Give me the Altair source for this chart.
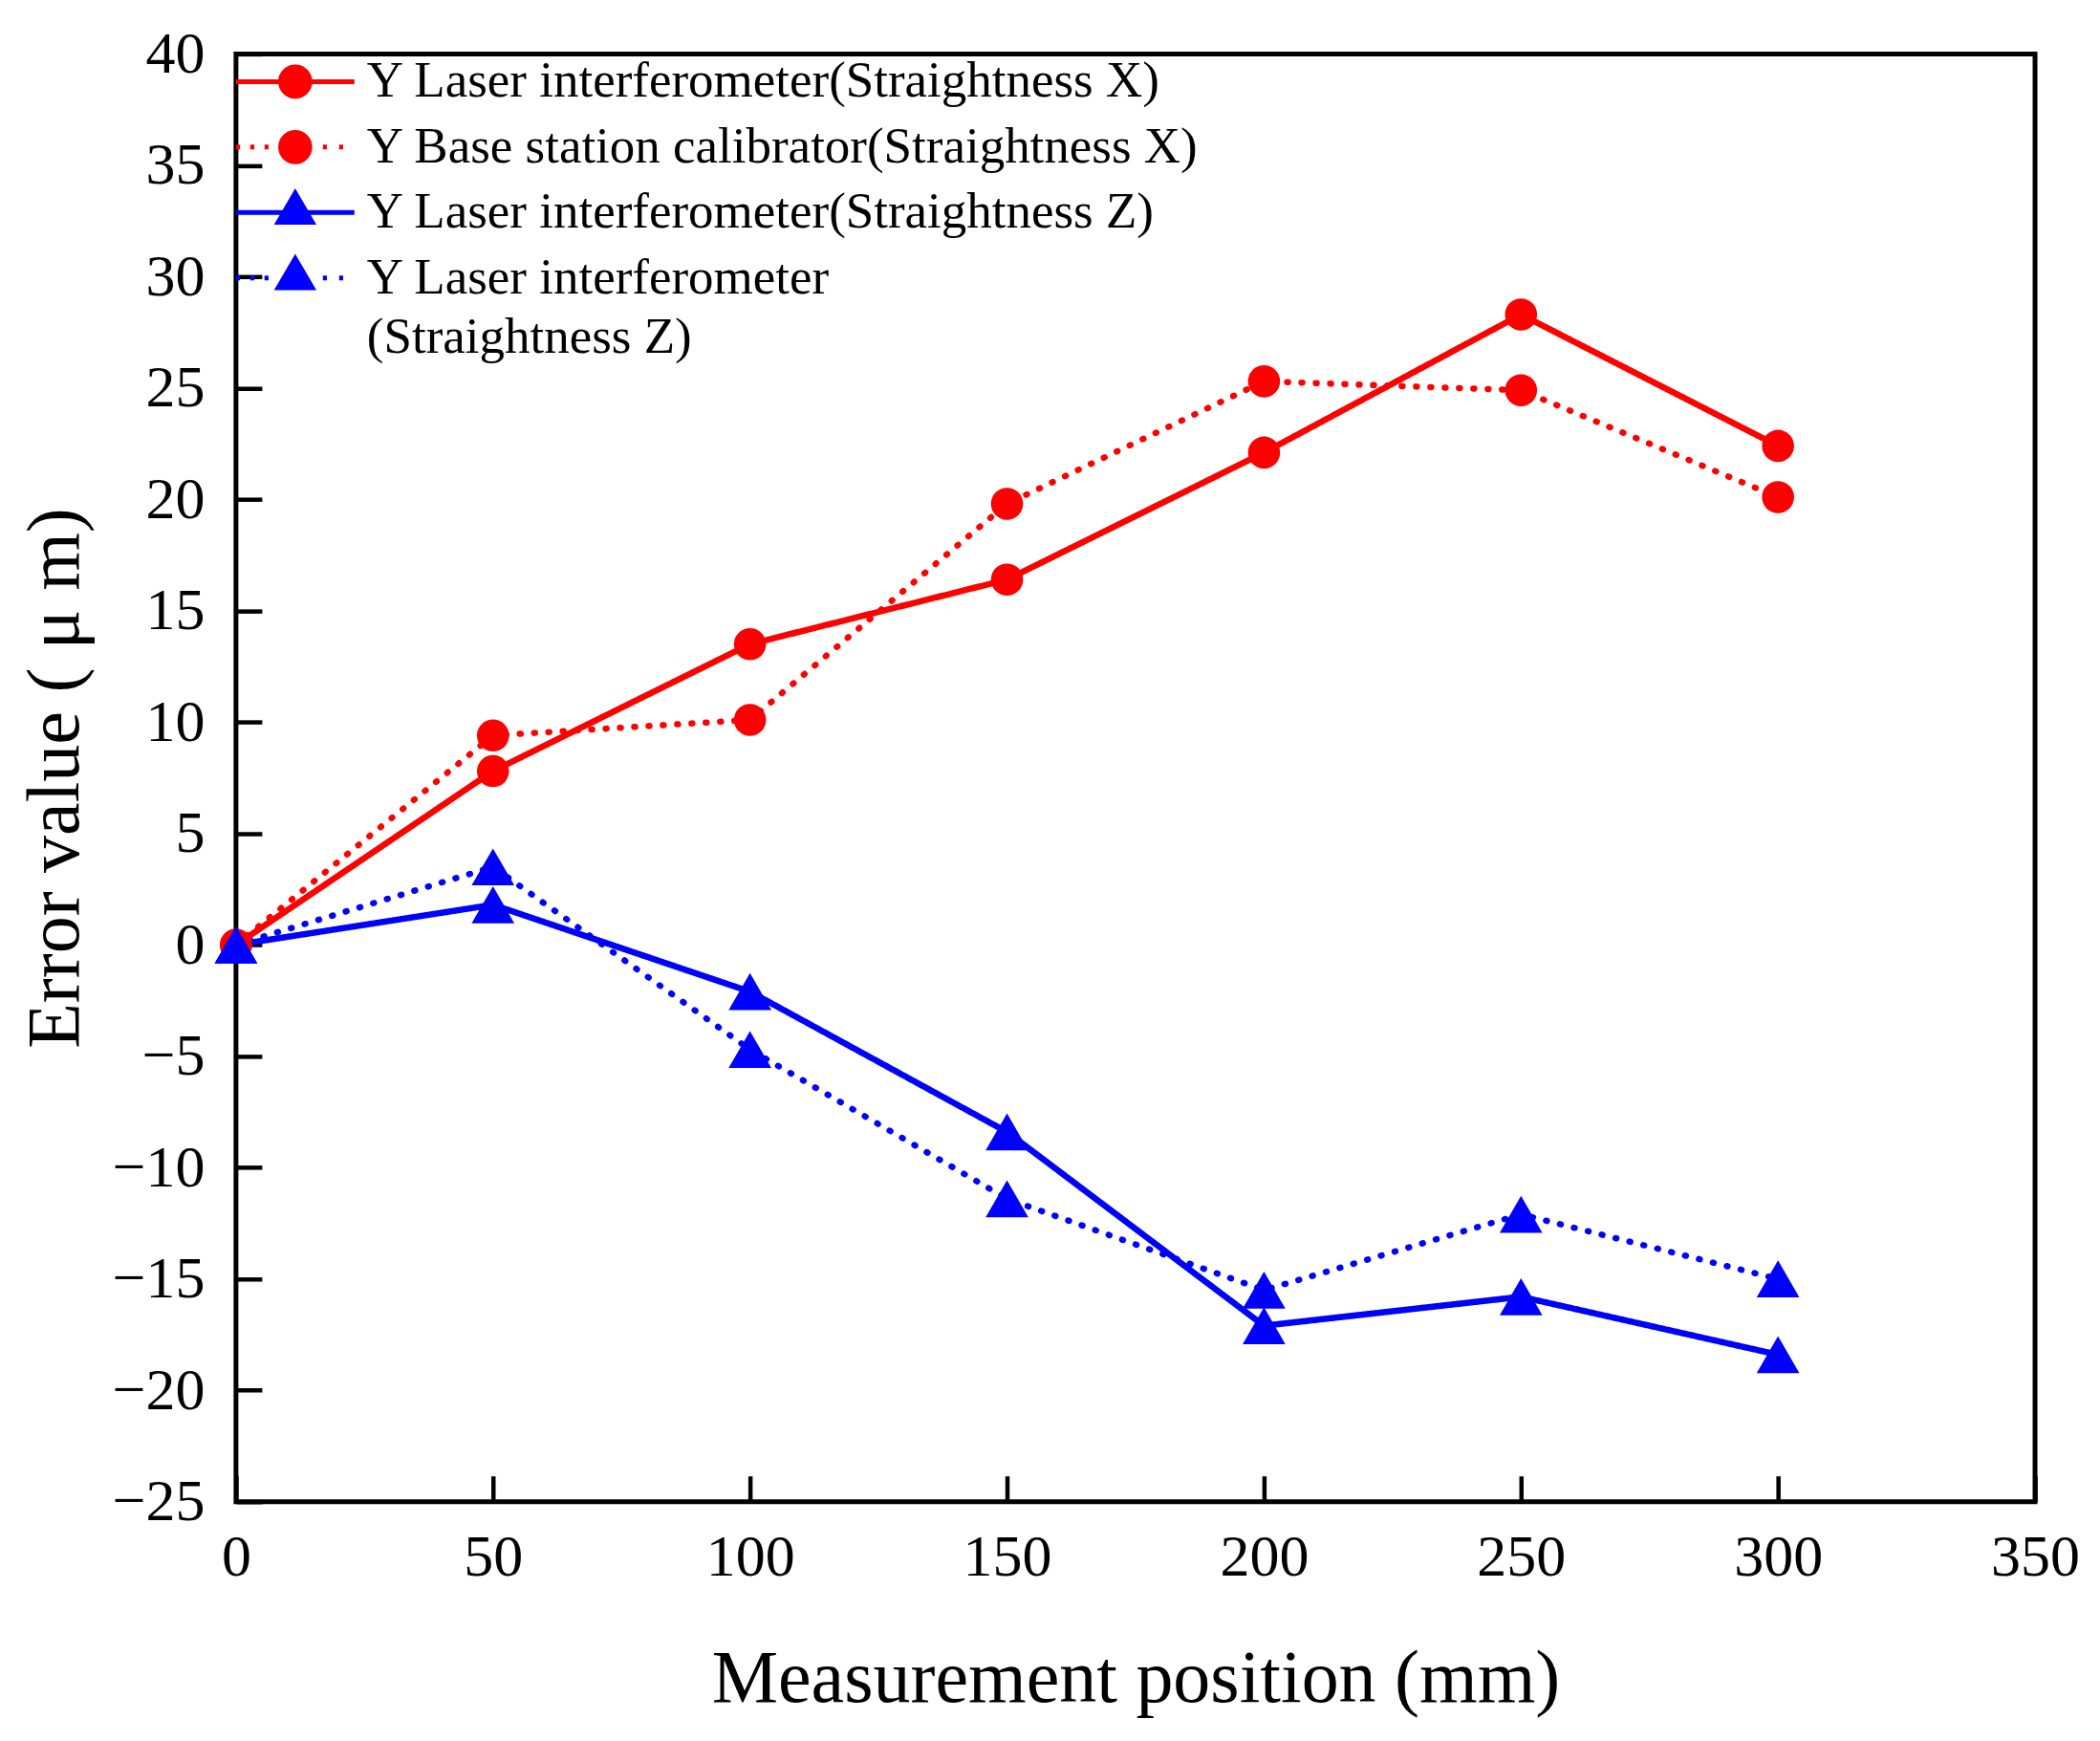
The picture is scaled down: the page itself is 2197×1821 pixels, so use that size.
import altair as alt
import pandas as pd

FONT = "Liberation Serif"

# ---- data ----
positions = [0, 50, 100, 150, 200, 250, 300]
laser_x = [0, 7.8, 13.5, 16.4, 22.1, 28.3, 22.4]
base_x = [0, 9.4, 10.1, 19.8, 25.3, 24.9, 20.1]
laser_z = [0, 1.8, -2.1, -8.4, -17.1, -15.8, -18.4]
laser_z_dotted = [0, 3.5, -4.7, -11.4, -15.5, -12.1, -15.0]

series_names = [
    "Y Laser interferometer(Straightness X)",
    "Y Base station calibrator(Straightness X)",
    "Y Laser interferometer(Straightness Z)",
    "Y Laser interferometer|(Straightness Z)",
]
series_values = [laser_x, base_x, laser_z, laser_z_dotted]
series_colors = ["#ff0000", "#ff0000", "#0000ff", "#0000ff"]
series_dash = [[1, 0], [1, 14], [1, 0], [1, 14]]
circle_series = series_names[:2]
triangle_series = series_names[2:]

x_ticks = [0, 50, 100, 150, 200, 250, 300, 350]
y_ticks = [-25, -20, -15, -10, -5, 0, 5, 10, 15, 20, 25, 30, 35, 40]

# legend key glyphs: line + marker (units of half the legend symbol size);
# the leading move-tos give every key the same vertical extent
extent = "M0,-1.25M0,1.25"
circ = "M-0.73,0A0.73,0.73,0,1,1,0.73,0A0.73,0.73,0,1,1,-0.73,0Z"
tri = "M0,-0.97L0.85,0.49L-0.85,0.49Z"
solid = "M-2.95,0L2.95,0"
dots = ("M-2.95,0L-2.75,0M-2.24,0L-2.04,0M-1.53,0L-1.33,0"
        "M1.38,0L1.58,0M2.19,0L2.39,0")
legend_shapes = [extent + solid + circ, extent + dots + circ,
                 extent + solid + tri, extent + dots + tri]

rows = []
for name, vals, col, dash in zip(series_names, series_values, series_colors, series_dash):
    for xv, yv in zip(positions, vals):
        rows.append({"series": name, "x": xv, "y": yv, "color": col, "dash": dash})
df = pd.DataFrame(rows)

W, H = 1883, 1515

xscale = alt.Scale(domain=[0, 350], nice=False, zero=False)
yscale = alt.Scale(domain=[-25, 40], nice=False, zero=False)
legend_color_scale = alt.Scale(domain=series_names, range=series_colors)
legend_shape_scale = alt.Scale(domain=series_names, range=legend_shapes)

x_label_axis = alt.Axis(
    orient="bottom", values=x_ticks, ticks=False, tickSize=0, domain=False,
    grid=False, labelFont=FONT, labelFontSize=62, labelColor="black",
    labelPadding=28, labelFlush=False, labelOverlap=False,
    title="Measurement position (mm)", titleFont=FONT, titleFontSize=78,
    titleFontWeight="normal", titleColor="black", titleY=209,
    titleBaseline="alphabetic",
)
y_label_axis = alt.Axis(
    orient="left", values=y_ticks, ticks=False, tickSize=0, domain=False,
    grid=False, labelFont=FONT, labelFontSize=62, labelColor="black",
    labelPadding=33, labelOverlap=False,
    title="Error value ( μ m)", titleFont=FONT, titleFontSize=78,
    titleFontWeight="normal", titleColor="black", titleX=-165,
    titleBaseline="alphabetic",
)
x_tick_axis = alt.Axis(
    orient="top", offset=-H, values=x_ticks, ticks=True, tickSize=27,
    tickWidth=4.5, tickColor="black", labels=False, domain=False,
    grid=False, title=None,
)
y_tick_axis = alt.Axis(
    orient="right", offset=-W, values=y_ticks, ticks=True, tickSize=27,
    tickWidth=4.5, tickColor="black", labels=False, domain=False,
    grid=False, title=None,
)

lg = alt.Legend(
    orient="none", legendX=35.5, legendY=2.5, title=None,
    labelExpr="split(datum.label, '|')", labelFont=FONT, labelFontSize=53,
    labelColor="black", labelLimit=2000, labelOffset=48.5,
    symbolSize=1764, symbolStrokeWidth=5, symbolOpacity=1,
    rowPadding=-4.5, padding=0,
)

base = alt.Chart(df)

lines = base.mark_line(strokeWidth=6.5, strokeCap="round", strokeJoin="round").encode(
    x=alt.X("x:Q", scale=xscale, axis=x_label_axis),
    y=alt.Y("y:Q", scale=yscale, axis=y_label_axis),
    color=alt.Color("color:N", scale=None),
    strokeDash=alt.StrokeDash("dash:N", scale=None),
    detail="series:N",
    order="x:Q",
)

circles = base.transform_filter(
    alt.FieldOneOfPredicate(field="series", oneOf=circle_series)
).mark_point(shape="circle", filled=True, opacity=1, strokeWidth=0, size=1130).encode(
    x=alt.X("x:Q", scale=xscale, axis=x_tick_axis),
    y=alt.Y("y:Q", scale=yscale, axis=y_tick_axis),
    color=alt.Color("color:N", scale=None),
)

triangles = base.transform_filter(
    alt.FieldOneOfPredicate(field="series", oneOf=triangle_series)
).mark_point(shape="triangle-up", filled=True, opacity=1, strokeWidth=0, size=2000).encode(
    x=alt.X("x:Q", scale=xscale, axis=None),
    y=alt.Y("y:Q", scale=yscale, axis=None),
    color=alt.Color("color:N", scale=None),
)

legend_layer = base.mark_point(filled=False, opacity=0).encode(
    x=alt.X("x:Q", scale=xscale, axis=None),
    y=alt.Y("y:Q", scale=yscale, axis=None),
    shape=alt.Shape("series:N", scale=legend_shape_scale, legend=lg),
    fill=alt.Fill("series:N", scale=legend_color_scale, legend=lg),
    stroke=alt.Stroke("series:N", scale=legend_color_scale, legend=lg),
)

chart = (
    alt.layer(lines, circles, triangles, legend_layer)
    .resolve_axis(x="independent", y="independent")
    .properties(
        width=W, height=H,
        autosize=alt.AutoSizeParams(type="none"),
        padding={"left": 239, "top": 48, "right": 60, "bottom": 240},
        background="white",
    )
    .configure(
        style={"guide-label": {"lineHeight": 62}},
        view=alt.ViewConfig(stroke="black", strokeWidth=5),
    )
)

chart.save("out.html", embed_options={"renderer": "svg", "actions": False})
